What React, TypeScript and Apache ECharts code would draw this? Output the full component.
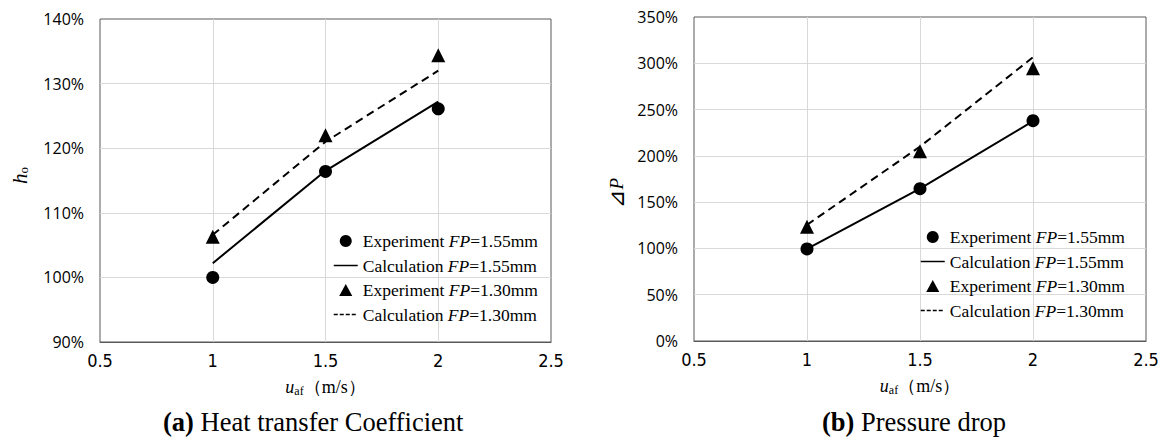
import React, { useEffect, useRef } from "react";
import * as echarts from "echarts";

const xTicks = ["0.5", "1", "1.5", "2", "2.5"];
const speeds = [1, 1.5, 2];

// (a) Heat transfer coefficient, %
const hExp155 = [100, 116.4, 126.1];
const hCalc155 = [102.2, 116.5, 127.2];
const hExp130 = [106.3, 122.0, 134.4];
const hCalc130 = [106.6, 121.0, 132.0];

// (b) Pressure drop, %
const pExp155 = [99.5, 164.5, 238];
const pCalc155 = [99.5, 164.5, 237.5];
const pExp130 = [123.5, 205, 294.6];
const pCalc130 = [125.5, 210, 306.5];

const names = [
  "Experiment FP=1.55mm",
  "Calculation FP=1.55mm",
  "Experiment FP=1.30mm",
  "Calculation FP=1.30mm",
];

const pairs = (ys: number[]) => speeds.map((x, i) => [x, ys[i]]);

const serif = "'Liberation Serif', 'Times New Roman', serif";
const sans = "'Open Sans', 'Noto Sans', sans-serif";
const narrow = "'Liberation Sans Narrow', 'DejaVu Sans Condensed', 'Roboto', sans-serif";

export default function App() {
  const ref = useRef<HTMLDivElement>(null);
  useEffect(() => {
    if (!ref.current) return;
    const chart = echarts.init(ref.current, undefined, { renderer: "svg" });

    const mkSeries = (idx: number, data: number[][][]) => [
      {
        name: names[0], type: "scatter", xAxisIndex: idx, yAxisIndex: idx,
        data: data[0], symbol: "circle", symbolSize: 13,
        itemStyle: { color: "#000", opacity: 1 }, z: 5,
      },
      {
        name: names[1], type: "line", xAxisIndex: idx, yAxisIndex: idx,
        data: data[1], symbol: "none", showSymbol: false,
        lineStyle: { color: "#000", width: 2, type: "solid" },
        itemStyle: { color: "#000" },
      },
      {
        name: names[2], type: "scatter", xAxisIndex: idx, yAxisIndex: idx,
        data: data[2], symbol: "triangle", symbolSize: 14,
        itemStyle: { color: "#000", opacity: 1 }, z: 5,
      },
      {
        name: names[3], type: "line", xAxisIndex: idx, yAxisIndex: idx,
        data: data[3], symbol: "none", showSymbol: false,
        lineStyle: { color: "#000", width: 2, type: [8, 5] },
        itemStyle: { color: "#000" },
      },
    ];

    const legendRich = {
      a: { fontFamily: serif, fontSize: 17.5, color: "#000", lineHeight: 20 },
      i: { fontFamily: serif, fontSize: 17.5, color: "#000", fontStyle: "italic", lineHeight: 20 },
    };
    const legendFmt = (n: string) => {
      const m = n.match(/^(\S+) FP(=.*)$/);
      if (!m) return n;
      return `{a|${m[1]} }{i|FP}{a|${m[2]}}`;
    };
    const mkLegend = (left: number, top: number) => ({
      orient: "vertical",
      left, top,
      itemWidth: 24, itemHeight: 12, itemGap: 4.5,
      symbolKeepAspect: true,
      data: [
        { name: names[0], icon: "circle" },
        { name: names[1], itemStyle: { opacity: 0 }, lineStyle: { width: 1.5, type: "solid" } },
        { name: names[2], icon: "path://M6,0 L12,11 L0,11 Z" },
        { name: names[3], itemStyle: { opacity: 0 }, lineStyle: { width: 1.5, type: [4, 2] } },
      ],
      formatter: legendFmt,
      textStyle: { rich: legendRich, fontFamily: serif, fontSize: 17.5, color: "#000", lineHeight: 20, height: 20 },
      selectedMode: false,
    });

    const mkX = (gi: number) => ({
      type: "value", gridIndex: gi, min: 0.5, max: 2.5, interval: 0.5,
      axisLine: { show: true, lineStyle: { color: "#595959", width: 1 } },
      axisTick: { show: false },
      splitLine: { show: true, showMinLine: false, showMaxLine: false, lineStyle: { color: "#d9d9d9", width: 1 } },
      axisLabel: {
        fontFamily: narrow, fontSize: 18, color: "#000", margin: 9,
        formatter: (v: number) => xTicks[Math.round((v - 0.5) / 0.5)] ?? String(v),
      },
      name: "{u|u}{s|af}{t|（m/s）}",
      nameLocation: "middle",
      nameGap: 35,
      nameTextStyle: {
        rich: {
          u: { fontFamily: serif, fontStyle: "italic", fontSize: 18, color: "#000" },
          s: { fontFamily: serif, fontSize: 12, color: "#000", padding: [8, 0, 0, 0] },
          t: { fontFamily: serif, fontSize: 18, color: "#000" },
        },
      },
    });

    const mkY = (gi: number, min: number, max: number, interval: number, name: string, rich: any, gap: number, pad: number[]) => ({
      type: "value", gridIndex: gi, min, max, interval,
      axisLine: { show: false },
      axisTick: { show: false },
      splitLine: { show: true, showMinLine: false, showMaxLine: false, lineStyle: { color: "#d9d9d9", width: 1 } },
      axisLabel: { fontFamily: sans, fontSize: 16, color: "#000", margin: 16, formatter: "{value}%" },
      name,
      nameLocation: "middle",
      nameRotate: 90,
      nameGap: gap,
      nameTextStyle: { rich, padding: pad },
    });

    chart.setOption({
      animation: false,
      backgroundColor: "#fff",
      grid: [
        { left: 100, top: 19, width: 451, height: 323, show: true, borderColor: "#595959", borderWidth: 1, backgroundColor: "transparent" },
        { left: 694, top: 17, width: 452, height: 324, show: true, borderColor: "#595959", borderWidth: 1, backgroundColor: "transparent" },
      ],
      xAxis: [mkX(0), mkX(1)],
      yAxis: [
        mkY(0, 90, 140, 10, "{h|h}{o|o}", {
          h: { fontFamily: serif, fontStyle: "italic", fontSize: 21, color: "#000" },
          o: { fontFamily: serif, fontSize: 13, color: "#000", padding: [7, 0, 0, 0] },
        }, 70, [0, 0, 0, 10]),
        mkY(1, 0, 350, 50, "{t|⊿}{p|P}", {
          t: { fontFamily: "'DejaVu Sans', 'Noto Sans CJK JP', serif", fontSize: 22, color: "#000" },
          p: { fontFamily: serif, fontStyle: "italic", fontSize: 19, color: "#000" },
        }, 67, [0, 28, 0, 0]),
      ],
      legend: [mkLegend(328, 226), mkLegend(915, 222)],
      series: [
        ...mkSeries(0, [pairs(hExp155), pairs(hCalc155), pairs(hExp130), pairs(hCalc130)]),
        ...mkSeries(1, [pairs(pExp155), pairs(pCalc155), pairs(pExp130), pairs(pCalc130)]),
      ],
      graphic: [
        {
          type: "text", left: 163, top: 408,
          style: {
            text: "{b|(a)}{n| Heat transfer Coefficient}",
            rich: {
              b: { fontFamily: serif, fontWeight: "bold", fontSize: 26.5, fill: "#000" },
              n: { fontFamily: serif, fontSize: 26.5, fill: "#000" },
            },
          },
        },
        {
          type: "text", left: 822, top: 408,
          style: {
            text: "{b|(b)}{n| Pressure drop}",
            rich: {
              b: { fontFamily: serif, fontWeight: "bold", fontSize: 26.5, fill: "#000" },
              n: { fontFamily: serif, fontSize: 26.5, fill: "#000" },
            },
          },
        },
      ],
    });
    return () => chart.dispose();
  }, []);
  return (
    <div
      ref={ref}
      style={{ position: "fixed", left: 0, top: 0, width: 1164, height: 445, background: "#fff" }}
    />
  );
}
